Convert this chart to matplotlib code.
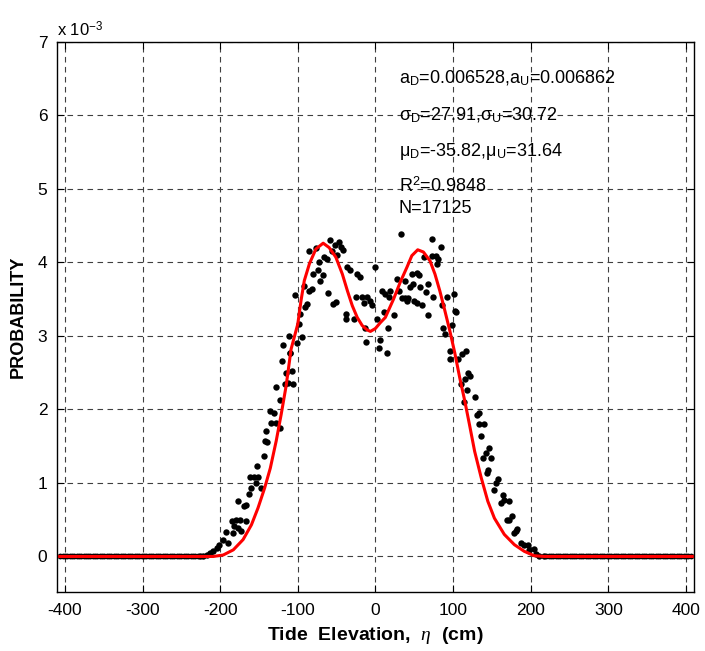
import matplotlib.pyplot as plt
import numpy as np

plt.rcParams['font.family'] = ['Liberation Sans', 'DejaVu Sans']
plt.rcParams['mathtext.fontset'] = 'custom'
plt.rcParams['mathtext.rm'] = 'Liberation Sans'
plt.rcParams['mathtext.it'] = 'Liberation Serif:italic'
plt.rcParams['mathtext.bf'] = 'Liberation Sans:bold'
plt.rcParams['axes.unicode_minus'] = False

dot_x = [-225.7, -221.5, -217, -213, -209.6, -204.4, -201, -196.8, -192.5, -189.5,
         -185, -184, -182, -179.7, -177.6, -176.7, -174.6, -172.5, -169, -167,
         -167, -163, -162, -159.7, -156, -154, -152, -150.8, -148, -144,
         -141.8, -140.5, -139, -136.3, -134, -131, -128.6, -127.8, -123.5, -122.6,
         -120, -118.4, -116, -115, -113, -111.6, -110, -109.4, -107.3, -106.5,
         -103, -100.5, -98.8, -97, -94.6, -91.6, -90.3, -88.6, -86, -85.2,
         -81.8, -81, -76.7, -74.5, -72.4, -71.5, -68, -66, -61.8, -60.5,
         -58.8, -55.4, -54, -52, -51, -49, -46.8, -44.7, -41.7, -38.3,
         -37.5, -36.2, -33, -27.7, -25.5, -23.4, -20.4, -17, -15, -12.8,
         -12, -10.6, -7.6, -5, 0, 2, 5, 6.4, 8.5, 10.6,
         12.8, 15, 16, 17, 19, 23.4, 27.7, 30.7, 33, 34,
         37.5, 38.3, 40.5, 42.6, 44.7, 46.9, 49, 50.3, 53, 53,
         56, 57.5, 59.6, 63, 64.8, 67.3, 68, 72.4, 73.3, 74.5,
         77.5, 78.8, 81, 84, 85.2, 87.3, 89.5, 91.6, 95.8, 95.8,
         98.8, 101, 102.2, 104.4, 106.5, 110, 111.6, 114, 115, 117,
         118.4, 119.3, 121.4, 127.8, 131, 132.9, 134, 135.4, 138.4, 139.7,
         142.7, 144, 144.8, 145.7, 149, 152.5, 155.5, 157.6, 161.9, 164,
         166, 169.5, 172.5, 172.5, 175.5, 179, 181, 183, 188, 191.7,
         196, 198, 204.5, 206.6, 211, 217]
dot_y = [0, 0.01, 0.02, 0.05, 0.08, 0.12, 0.16, 0.23, 0.33, 0.18,
         0.48, 0.32, 0.41, 0.49, 0.76, 0.39, 0.49, 0.34, 0.68, 0.70,
         0.48, 0.85, 1.08, 0.93, 1.08, 1.00, 1.23, 1.08, 0.93, 1.36,
         1.57, 1.70, 1.55, 1.98, 1.82, 1.95, 1.82, 2.30, 1.74, 2.13,
         2.66, 2.88, 2.35, 2.50, 2.36, 3.00, 2.77, 2.77, 2.52, 2.35,
         3.55, 2.90, 3.16, 3.30, 2.98, 3.68, 3.39, 3.43, 4.15, 3.61,
         3.64, 3.84, 4.20, 3.90, 4.00, 3.74, 3.83, 4.07, 4.05, 3.58,
         4.30, 4.15, 3.43, 4.23, 3.46, 4.10, 4.27, 4.21, 4.17, 3.30,
         3.23, 3.93, 3.89, 3.23, 3.53, 3.84, 3.80, 3.53, 3.44, 3.10,
         2.91, 3.53, 3.48, 3.42, 3.93, 3.23, 2.83, 2.95, 3.61, 3.33,
         3.57, 2.77, 3.10, 3.53, 3.61, 3.29, 3.77, 3.61, 4.39, 3.51,
         3.75, 3.52, 3.48, 3.52, 3.66, 3.84, 3.70, 3.47, 3.44, 3.85,
         3.83, 3.66, 3.42, 4.07, 3.59, 3.29, 3.70, 4.32, 4.09, 3.53,
         4.09, 3.98, 4.05, 4.21, 3.42, 3.10, 3.03, 3.53, 2.80, 2.68,
         3.15, 3.57, 3.34, 3.33, 2.68, 2.34, 2.75, 2.10, 2.41, 2.80,
         2.26, 2.49, 2.45, 2.17, 1.92, 1.95, 1.80, 1.64, 1.34, 1.80,
         1.40, 1.14, 1.17, 1.47, 1.34, 0.90, 1.00, 1.06, 0.73, 0.84,
         0.77, 0.50, 0.49, 0.76, 0.55, 0.32, 0.34, 0.38, 0.18, 0.16,
         0.15, 0.09, 0.10, 0.03, 0.01, 0]

# empty bins on both tails
zero_x = np.concatenate([np.arange(-406, -226, 3), np.arange(220, 407, 3)])
zero_y = np.zeros(len(zero_x))

# fitted curve (units of 1e-3)
fit_x = [-410, -220, -208.7, -196, -183, -170.4, -159.7, -151.2, -142.7, -135.4,
         -127.8, -121.4, -115, -108.6, -100, -95.8, -91.6, -85, -76.7, -67.3,
         -59.6, -51, -42.6, -36, -29.8, -23.4, -17, -10.6, -6.4, 0,
         6.4, 12.8, 23.4, 32, 40.5, 46.9, 54.5, 61.8, 70.3, 76.7,
         83, 89.5, 95.8, 102.2, 108.6, 115, 121.4, 127.8, 136.3, 144.8,
         153.3, 166, 179, 191.7, 204.5, 217, 410]
fit_y = [0, 0, 0, 0.02, 0.09, 0.23, 0.43, 0.66, 0.93, 1.20,
         1.57, 1.93, 2.32, 2.82, 3.16, 3.48, 3.75, 3.98, 4.18, 4.26,
         4.20, 4.07, 3.84, 3.61, 3.41, 3.25, 3.14, 3.08, 3.06, 3.10,
         3.18, 3.25, 3.50, 3.73, 3.93, 4.09, 4.17, 4.14, 4.02, 3.84,
         3.61, 3.34, 3.07, 2.77, 2.43, 2.12, 1.78, 1.43, 1.07, 0.75,
         0.52, 0.30, 0.16, 0.07, 0.01, 0, 0]

notes = [r'a$_\mathrm{D}$=0.006528,a$_\mathrm{U}$=0.006862',
         r'σ$_\mathrm{D}$=27.91,σ$_\mathrm{U}$=30.72',
         r'μ$_\mathrm{D}$=-35.82,μ$_\mathrm{U}$=31.64',
         r'R$^\mathrm{2}$=0.9848',
         'N=17125']
note_y = [6.5, 6.0, 5.51, 5.03, 4.73]

fig = plt.figure(figsize=(7.05, 6.51), dpi=100)
ax = fig.add_axes([0.081, 0.091, 0.903, 0.845])

ax.plot(zero_x, zero_y, 'ko', markersize=4.2, markeredgewidth=0)
ax.plot(dot_x, dot_y, 'ko', markersize=4.6, markeredgewidth=0)
ax.plot(fit_x, fit_y, color='red', linewidth=2.2)

ax.set_xlim(-410, 410)
ax.set_ylim(-0.48, 7)
ax.set_xticks(np.arange(-400, 401, 100))
ax.set_yticks(np.arange(0, 8, 1))
ax.grid(True, linestyle=(0, (5, 4)), color='0.25', linewidth=0.8)
ax.tick_params(direction='in', top=True, right=True, labelsize=12.5, length=5)
ax.tick_params(axis='x', pad=8)
ax.tick_params(axis='y', pad=7)
for s in ax.spines.values():
    s.set_linewidth(1.0)

for t, y in zip(notes, note_y):
    ax.text(30, y, t, fontsize=13, va='center', ha='left')

ax.text(0.0, 1.005, r'x 10$^\mathrm{-3}$', transform=ax.transAxes, fontsize=12,
        va='bottom', ha='left')

ax.set_ylabel('PROBABILITY', fontsize=13, fontweight='bold', labelpad=8)
ax.set_xlabel(r'Tide  Elevation,  $\eta$  (cm)', fontsize=14, fontweight='bold', labelpad=5)

plt.savefig('out.png', dpi=100)
